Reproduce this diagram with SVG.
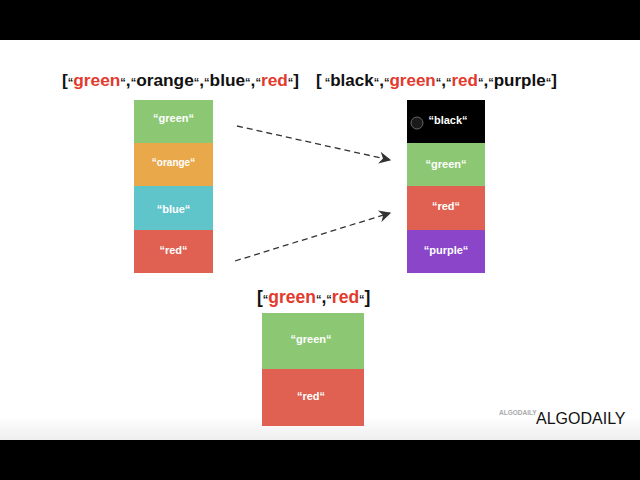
<svg xmlns="http://www.w3.org/2000/svg" width="640" height="480" viewBox="0 0 640 480">
<defs>
<linearGradient id="bg" x1="0" y1="0" x2="0" y2="1">
<stop offset="0.94" stop-color="#ffffff"/>
<stop offset="1" stop-color="#eeeeee"/>
</linearGradient>
<marker id="ah" viewBox="0 0 10 10" refX="9" refY="5" markerWidth="12" markerHeight="12" markerUnits="userSpaceOnUse" orient="auto">
<path d="M0,0 L10,5 L0,10 L3,5 z" fill="#333"/>
</marker>
<style>
.t{font-family:"Liberation Sans",Arial,sans-serif;font-weight:bold;font-size:17.5px;fill:#111}
.r{fill:#e23b2e}
.q{font-size:11px}
.l{font-family:"Liberation Sans",Arial,sans-serif;font-weight:bold;font-size:11px;fill:#fff;text-anchor:middle}
.c{stroke:#333;stroke-width:1.3;stroke-dasharray:6,4;fill:none;marker-end:url(#ah)}
</style>
</defs>
<rect x="0" y="0" width="640" height="480" fill="#000"/>
<rect x="0" y="40" width="640" height="400" fill="url(#bg)"/>

<g id="title-left">
<text class="t" x="62" y="86" style="font-size:17.3px">[<tspan class="q">“</tspan><tspan class="r">green</tspan><tspan class="q">“</tspan>,<tspan class="q">“</tspan>orange<tspan class="q">“</tspan>,<tspan class="q">“</tspan>blue<tspan class="q">“</tspan>,<tspan class="q">“</tspan><tspan class="r">red</tspan><tspan class="q">“</tspan>]</text>
</g>
<g id="title-right">
<text class="t" x="316" y="86" style="font-size:17px">[<tspan class="q"> “</tspan>black<tspan class="q">“</tspan>,<tspan class="q">“</tspan><tspan class="r">green</tspan><tspan class="q">“</tspan>,<tspan class="q">“</tspan><tspan class="r">red</tspan><tspan class="q">“</tspan>,<tspan class="q">“</tspan>purple<tspan class="q">“</tspan>]</text>
</g>
<g id="title-bottom">
<text class="t" x="257" y="303">[<tspan class="q">“</tspan><tspan class="r">green</tspan><tspan class="q">“</tspan>,<tspan class="q">“</tspan><tspan class="r">red</tspan><tspan class="q">“</tspan>]</text>
</g>

<g id="left-green"><rect x="134" y="100" width="79" height="43" fill="#8cc873"/><text class="l" x="173.5" y="122">“green“</text></g>
<g id="left-orange"><rect x="134" y="143" width="79" height="43" fill="#e9a94b"/><text class="l" x="173.5" y="166" style="font-size:10px">“orange“</text></g>
<g id="left-blue"><rect x="134" y="186" width="79" height="44" fill="#5fc5cb"/><text class="l" x="173.5" y="213">“blue“</text></g>
<g id="left-red"><rect x="134" y="230" width="79" height="43" fill="#e06151"/><text class="l" x="173.5" y="254">“red“</text></g>

<g id="right-black"><rect x="407" y="100" width="78" height="43" fill="#000"/><circle cx="417" cy="123" r="6" fill="#1a1a1a" stroke="#666" stroke-width="1"/><text class="l" x="448" y="124">“black“</text></g>
<g id="right-green"><rect x="407" y="143" width="78" height="43" fill="#8cc873"/><text class="l" x="446" y="168">“green“</text></g>
<g id="right-red"><rect x="407" y="186" width="78" height="44" fill="#e06151"/><text class="l" x="446" y="210">“red“</text></g>
<g id="right-purple"><rect x="407" y="230" width="78" height="43" fill="#8a45c9"/><text class="l" x="446" y="254">“purple“</text></g>

<g id="bottom-green"><rect x="262" y="313" width="102" height="56" fill="#8cc873"/><text class="l" x="311" y="343">“green“</text></g>
<g id="bottom-red"><rect x="262" y="369" width="102" height="57" fill="#e06151"/><text class="l" x="311" y="400">“red“</text></g>

<g id="connectors">
<path class="c" d="M237,126 L390,160"/>
<path class="c" d="M235,261 L390,213"/>
</g>

<g id="watermark">
<text x="499" y="415" style="font-family:'Liberation Sans',Arial,sans-serif;font-weight:bold;font-size:6.5px;fill:#aaa">ALGODAILY</text>
<text x="536" y="424" style="font-family:'Liberation Sans',Arial,sans-serif;font-size:16px;fill:#111">ALGODAILY</text>
</g>
</svg>
